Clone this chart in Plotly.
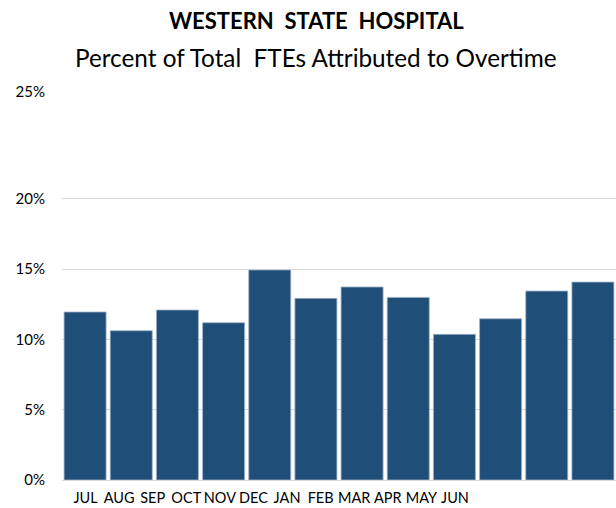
import plotly.graph_objects as go

months = ["JUL", "AUG", "SEP", "OCT", "NOV", "DEC", "JAN", "FEB", "MAR", "APR", "MAY", "JUN"]
overtime_pct = [11.95, 10.62, 12.09, 11.19, 14.94, 12.92, 13.73, 12.99, 10.36, 11.47, 13.44, 14.08]
y_tick_vals = [0, 5, 10, 15, 20, 27.6]
y_tick_text = ["0%", "5%", "10%", "15%", "20%", "25%"]

FONT = "Lato"
BAR = "#1F4E79"

fig = go.Figure()
fig.add_trace(go.Bar(
    x=months, y=overtime_pct,
    marker=dict(color=BAR, line=dict(color="#9FB3C8", width=0.8)),
    xaxis="x", yaxis="y", hoverinfo="skip", showlegend=False,
))
# label axis (compressed month labels as in the reference)
fig.add_trace(go.Scatter(
    x=list(range(len(months))), y=[0] * len(months), mode="markers",
    marker=dict(opacity=0), xaxis="x2", yaxis="y2", hoverinfo="skip", showlegend=False,
))

fig.update_layout(
    width=616, height=508,
    margin=dict(l=62, r=0, t=92, b=28),
    paper_bgcolor="white", plot_bgcolor="rgba(0,0,0,0)",
    font=dict(family=FONT, color="#000000"),
    bargap=0.09,
    xaxis=dict(domain=[0, 1], showticklabels=False, ticks="", showgrid=False,
               showline=False, zeroline=False, fixedrange=True),
    xaxis2=dict(domain=[0.0121, 0.7397], anchor="y2", range=[-0.5, len(months) - 0.5],
                tickvals=list(range(len(months))), ticktext=months, tickangle=0,
                showgrid=False, zeroline=False, showline=False, ticks="",
                ticklabelstandoff=7,
                tickfont=dict(family=FONT, size=14.5, color="#000000")),
    yaxis=dict(range=[0, 27.6], tickvals=y_tick_vals, ticktext=y_tick_text,
               showgrid=True, gridcolor="#D9D9D9", gridwidth=1.3,
               zeroline=True, zerolinecolor="#D9D9D9", zerolinewidth=1.3,
               showline=False, ticks="", ticklabelstandoff=16,
               tickfont=dict(family=FONT, size=15, color="#000000")),
    yaxis2=dict(range=[0, 27.6], anchor="x2", overlaying="y", showgrid=False,
                zeroline=False, showline=False, showticklabels=False, ticks=""),
    annotations=[
        dict(text="<b>WESTERN  STATE  HOSPITAL</b>", xref="paper", yref="paper",
             x=0.460, y=1, yshift=72, xanchor="center", yanchor="middle", showarrow=False,
             font=dict(family=FONT, size=22, color="#000000")),
        dict(text="Percent of Total  FTEs Attributed to Overtime", xref="paper", yref="paper",
             x=0.458, y=1, yshift=35, xanchor="center", yanchor="middle", showarrow=False,
             font=dict(family=FONT, size=24.3, color="#000000")),
    ],
)

fig.write_html("out.html", config={"displayModeBar": False},
               post_script="document.body.style.margin='0';")
